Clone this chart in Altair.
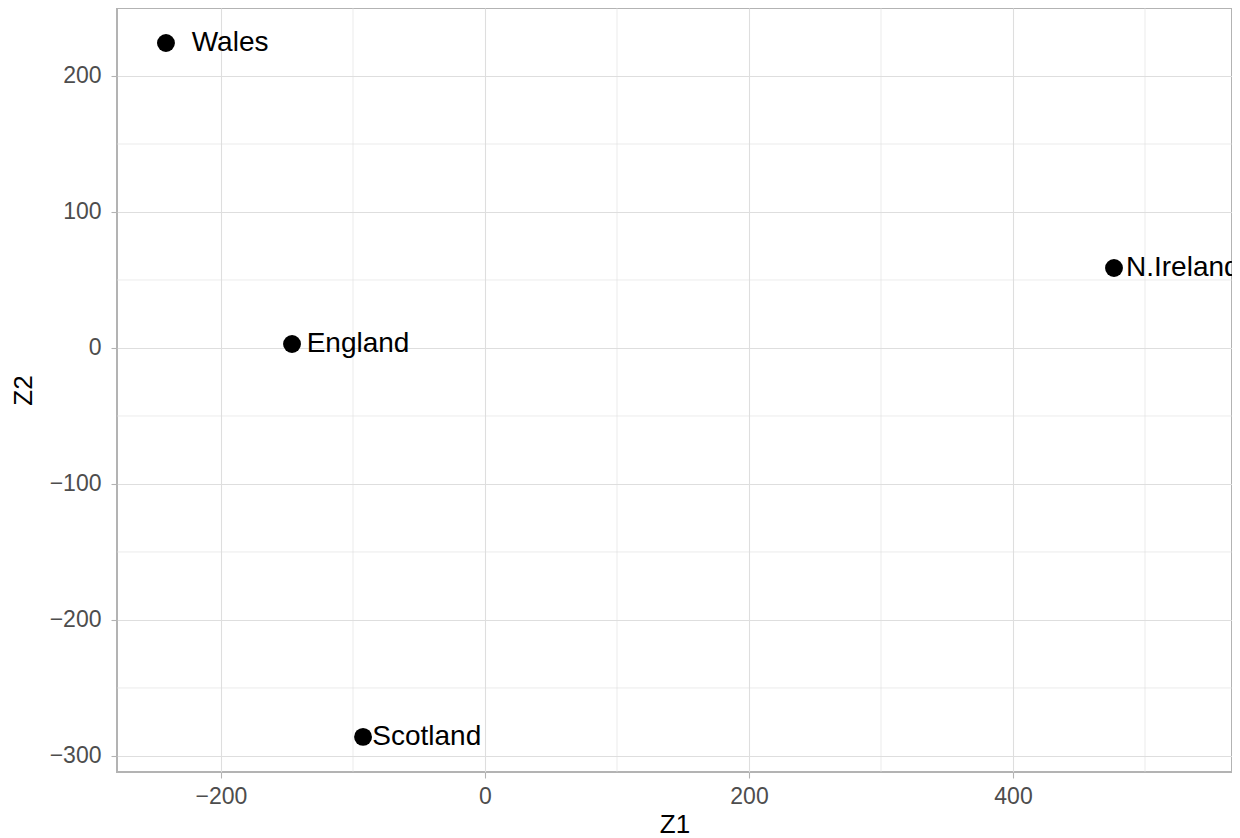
import altair as alt
import pandas as pd

# Data
countries = ["Wales", "England", "Scotland", "N.Ireland"]
z1 = [-241.7, -146.2, -92.4, 476.5]
z2 = [224.3, 2.9, -286.0, 58.8]
label_x = [-222.2, -135.1, -85.4, 485.6]

x_ticks = [-200, 0, 200, 400]
y_ticks = [-300, -200, -100, 0, 100, 200]
x_minor = [-100, 100, 300, 500]
y_minor = [-250, -150, -50, 50, 150]

x_domain = [-278.8, 565.9]
y_domain = [-311.8, 250.0]

df = pd.DataFrame({"country": countries, "Z1": z1, "Z2": z2, "lx": label_x})
dfx = pd.DataFrame({"v": x_minor})
dfy = pd.DataFrame({"v": y_minor})

GRID = "#DEDEDE"
FONT = "Liberation Sans"

xs = alt.Scale(domain=x_domain, nice=False, zero=False)
ys = alt.Scale(domain=y_domain, nice=False, zero=False)

xminor = alt.Chart(dfx).mark_rule(color=GRID, strokeWidth=0.6).encode(
    x=alt.X("v:Q", scale=xs)
)
yminor = alt.Chart(dfy).mark_rule(color=GRID, strokeWidth=0.6).encode(
    y=alt.Y("v:Q", scale=ys)
)

base = alt.Chart(df)
points = base.mark_circle(size=320, color="black", opacity=1).encode(
    x=alt.X("Z1:Q", scale=xs, title="Z1",
            axis=alt.Axis(values=x_ticks, grid=True)),
    y=alt.Y("Z2:Q", scale=ys, title="Z2",
            axis=alt.Axis(values=y_ticks, grid=True)),
)
labels = base.mark_text(align="left", baseline="middle", fontSize=28,
                        font=FONT, color="black", clip=True).encode(
    x=alt.X("lx:Q", scale=xs),
    y=alt.Y("Z2:Q", scale=ys),
    text="country:N",
)

chart = alt.layer(xminor, yminor, points, labels).properties(
    width=1115, height=764,
    autosize=alt.AutoSizeParams(type="none"),
    padding={"left": 109, "top": 0, "right": 0, "bottom": 66},
).configure_view(
    stroke="#B3B3B3", strokeWidth=2
).configure_axis(
    gridColor=GRID, gridWidth=1.1,
    domain=False,
    tickColor="#B3B3B3", tickSize=6, tickWidth=1.1,
    labelFont=FONT, labelFontSize=23, labelColor="#4D4D4D",
    titleFont=FONT, titleFontSize=26, titleColor="black", titleFontWeight="normal",
).configure_axisX(
    labelPadding=7, titlePadding=3
).configure_axisY(
    labelPadding=10, titlePadding=13
)

chart.save("out.html", embed_options={"renderer": "svg", "actions": False})
